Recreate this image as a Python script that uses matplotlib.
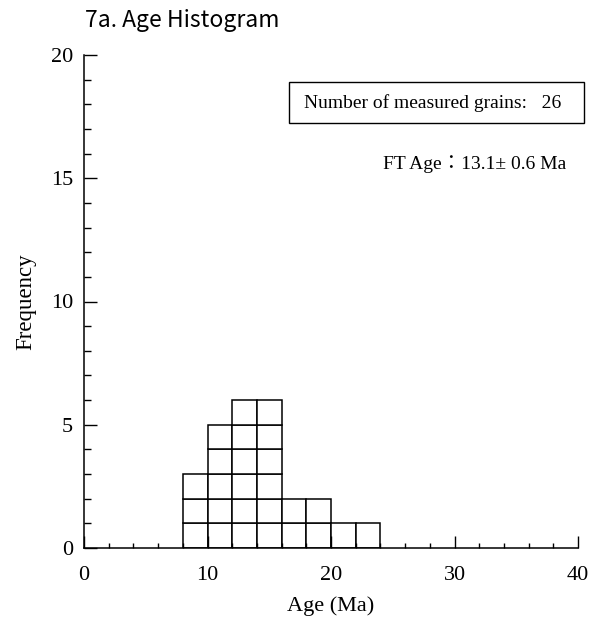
import matplotlib
matplotlib.use("Agg")
import matplotlib.pyplot as plt
from matplotlib.patches import Rectangle
from matplotlib.ticker import MultipleLocator

# histogram data (bin width 2 Ma)
bin_left = [8, 10, 12, 14, 16, 18, 20, 22]
counts = [3, 5, 6, 6, 2, 2, 1, 1]
bin_width = 2
n_grains = 26
ft_age = "13.1"
ft_err = "0.6"

SERIF = ["Liberation Serif", "Noto Sans CJK JP"]
plt.rcParams["font.family"] = SERIF

W, H = 591, 627
fig = plt.figure(figsize=(W / 100, H / 100), dpi=100)
ax = fig.add_axes([84 / W, 1 - 548 / H, 494 / W, 493 / H])

# stacked unit squares
for left, c in zip(bin_left, counts):
    for k in range(c):
        ax.bar(left, 1, width=bin_width, bottom=k, align="edge",
               facecolor="white", edgecolor="black", linewidth=1.1)

ax.set_xlim(0, 40)
ax.set_ylim(0, 20)
ax.spines["top"].set_visible(False)
ax.spines["right"].set_visible(False)
for s in ("left", "bottom"):
    ax.spines[s].set_linewidth(1.1)

ax.xaxis.set_major_locator(MultipleLocator(10))
ax.xaxis.set_minor_locator(MultipleLocator(2))
ax.yaxis.set_major_locator(MultipleLocator(5))
ax.yaxis.set_minor_locator(MultipleLocator(1))
ax.tick_params(axis="x", which="major", direction="in", length=8.6, width=1, pad=13, labelsize=16)
ax.tick_params(axis="x", which="minor", direction="in", length=3.6, width=1)
ax.tick_params(axis="y", which="major", direction="in", length=9, width=1, pad=8, labelsize=16)
ax.tick_params(axis="y", which="minor", direction="in", length=5, width=1)

ax.set_xlabel("Age (Ma)", fontsize=16, labelpad=8)
ax.set_ylabel("Frequency", fontsize=16.5, labelpad=10)

fig.text(85 / W, 1 - 20 / H, "7a. Age Histogram", family="Noto Sans CJK JP",
         fontsize=16.5, ha="left", va="center")

# info box
fig.patches.append(Rectangle((289 / W, 1 - 123 / H), 295 / W, 41 / H,
                             transform=fig.transFigure, facecolor="white",
                             edgecolor="black", linewidth=1.0))
fig.text(433 / W, 1 - 103 / H, f"Number of measured grains:   {n_grains}",
         fontsize=14, ha="center", va="center")

fig.text(566 / W, 1 - 164 / H, f"FT Age\uff1a{ft_age}\u00b1 {ft_err} Ma",
         fontsize=14, ha="right", va="center")

fig.savefig("out.png", dpi=100)
